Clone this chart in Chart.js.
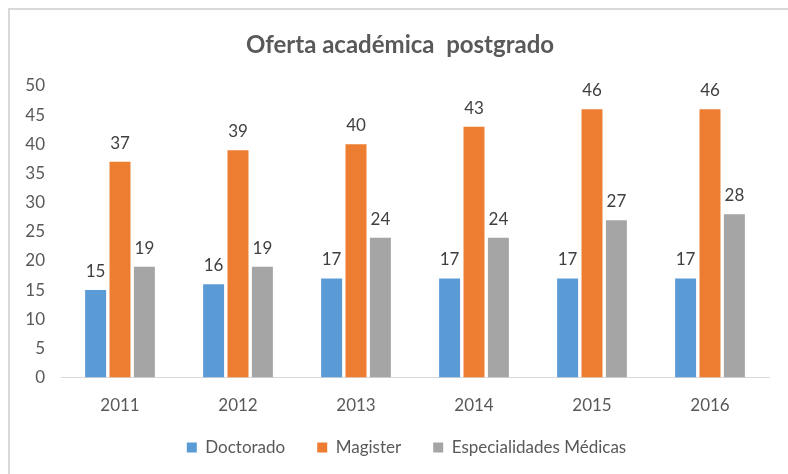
<!DOCTYPE html>
<html>
<head>
<meta charset="utf-8">
<script src="https://cdn.jsdelivr.net/npm/chart.js@4.4.0/dist/chart.umd.min.js"></script>
<style>
  html, body { margin: 0; padding: 0; background: #fff; }
  #wrap { width: 788px; height: 474px; position: relative; }
</style>
</head>
<body>
<div id="wrap"><canvas id="myChart" width="788" height="474"></canvas></div>
<script>
// datos del grafico
var years = ['2011', '2012', '2013', '2014', '2015', '2016'];
var doctorado = [15, 16, 17, 17, 17, 17];
var magister = [37, 39, 40, 43, 46, 46];
var especialidades = [19, 19, 24, 24, 27, 28];
var yTicks = [0, 5, 10, 15, 20, 25, 30, 35, 40, 45, 50];
var titulo = 'Oferta académica  postgrado';

var FONT = 'Lato, "Open Sans", sans-serif';
var GREY_TEXT = '#595959';

// marco gris y titulo centrado en la imagen
var framePlugin = {
    id: 'frame',
    beforeDraw: function(chart) {
        // correr la leyenda para que quede donde esta en la imagen
        if (chart.legend) {
            chart.legend.left = 44;
            chart.legend.top = 407;
        }
        var ctx = chart.ctx;
        ctx.save();
        ctx.fillStyle = '#fff';
        ctx.fillRect(0, 0, chart.width, chart.height);
        ctx.strokeStyle = '#d9d9d9';
        ctx.lineWidth = 2;
        ctx.strokeRect(9, 9, chart.width, chart.height);
        ctx.font = 'bold 24px ' + FONT;
        ctx.fillStyle = GREY_TEXT;
        ctx.textAlign = 'center';
        ctx.textBaseline = 'middle';
        ctx.fillText(titulo, 400, 45);
        ctx.restore();
    }
};

// etiquetas de valor encima de cada barra
var valueLabels = {
    id: 'valueLabels',
    afterDatasetsDraw: function(chart) {
        var ctx = chart.ctx;
        ctx.save();
        ctx.font = '17px ' + FONT;
        ctx.fillStyle = '#404040';
        ctx.textAlign = 'center';
        ctx.textBaseline = 'bottom';
        chart.data.datasets.forEach(function(ds, i) {
            var meta = chart.getDatasetMeta(i);
            meta.data.forEach(function(bar, j) {
                ctx.fillText(ds.data[j], bar.x, bar.y - 10);
            });
        });
        ctx.restore();
    }
};

var ctx = document.getElementById('myChart').getContext('2d');
var chart = new Chart(ctx, {
    type: 'bar',
    data: {
        labels: years,
        datasets: [{
            label: 'Doctorado',
            backgroundColor: '#5B9BD5',
            data: doctorado
        }, {
            label: 'Magister',
            backgroundColor: '#ED7D31',
            data: magister
        }, {
            label: 'Especialidades Médicas',
            backgroundColor: '#A5A5A5',
            data: especialidades
        }]
    },
    options: {
        responsive: false,
        animation: false,
        devicePixelRatio: 1,
        categoryPercentage: 0.62,
        barPercentage: 0.86,
        layout: { padding: { top: 86, right: 19, bottom: 7, left: 0 } },
        plugins: {
            title: { display: false },
            legend: {
                position: 'bottom',
                maxHeight: 33,
                labels: {
                    color: GREY_TEXT,
                    font: { family: FONT, size: 17 },
                    boxWidth: 10,
                    boxHeight: 10,
                    padding: 32
                }
            },
            tooltip: { enabled: false }
        },
        scales: {
            x: {
                grid: { display: false, drawTicks: false },
                border: { display: true, color: '#d9d9d9', width: 1 },
                ticks: { color: GREY_TEXT, font: { family: FONT, size: 17 }, padding: 18 }
            },
            y: {
                min: 0,
                max: 50,
                afterFit: function(scale) { scale.width = 61; },
                afterBuildTicks: function(scale) {
                    scale.ticks = yTicks.map(function(v) { return { value: v }; });
                },
                grid: { display: false, drawTicks: false },
                border: { display: false },
                ticks: { color: GREY_TEXT, font: { family: FONT, size: 17 }, padding: 16 }
            }
        }
    },
    plugins: [framePlugin, valueLabels]
});
</script>
</body>
</html>
